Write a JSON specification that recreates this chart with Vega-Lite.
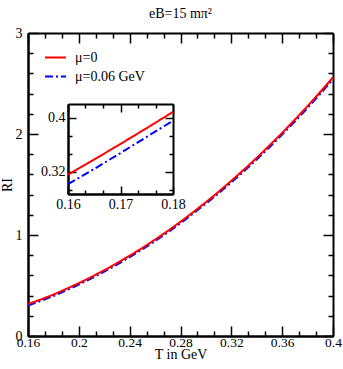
{
  "$schema": "https://vega.github.io/schema/vega-lite/v6.json",
  "width": 305,
  "height": 303,
  "autosize": {"type": "none"},
  "padding": {"left": 28, "top": 33, "right": 10, "bottom": 33},
  "background": "white",
  "title": {"text": "eB=15 mπ²", "font": "Liberation Serif", "fontSize": 14, "fontWeight": "normal", "color": "black", "offset": 5, "anchor": "middle"},
  "config": {
    "view": {"stroke": null},
    "axis": {"grid": false, "labelFont": "Liberation Serif", "titleFont": "Liberation Serif", "labelFontSize": 14, "titleFontSize": 14, "titleFontWeight": "normal", "labelColor": "black", "titleColor": "black", "domainColor": "black", "tickColor": "black", "domainWidth": 2, "tickWidth": 1.5, "labelFlush": false, "labelOverlap": false},
    "legend": {"orient": "none", "legendX": 16, "legendY": 13, "symbolType": "stroke", "symbolSize": 441, "symbolStrokeWidth": 2, "labelFont": "Liberation Serif", "labelFontSize": 14, "labelColor": "black", "labelOffset": 8, "padding": 0, "rowPadding": -3}
  },
  "datasets": {
    "main": [
      {"T": 0.16, "RI": 0.302, "mu": "μ=0.06 GeV"},
      {"T": 0.17, "RI": 0.347, "mu": "μ=0.06 GeV"},
      {"T": 0.18, "RI": 0.396, "mu": "μ=0.06 GeV"},
      {"T": 0.19, "RI": 0.451, "mu": "μ=0.06 GeV"},
      {"T": 0.20, "RI": 0.509, "mu": "μ=0.06 GeV"},
      {"T": 0.21, "RI": 0.571, "mu": "μ=0.06 GeV"},
      {"T": 0.22, "RI": 0.637, "mu": "μ=0.06 GeV"},
      {"T": 0.23, "RI": 0.707, "mu": "μ=0.06 GeV"},
      {"T": 0.24, "RI": 0.781, "mu": "μ=0.06 GeV"},
      {"T": 0.25, "RI": 0.858, "mu": "μ=0.06 GeV"},
      {"T": 0.26, "RI": 0.940, "mu": "μ=0.06 GeV"},
      {"T": 0.27, "RI": 1.026, "mu": "μ=0.06 GeV"},
      {"T": 0.28, "RI": 1.117, "mu": "μ=0.06 GeV"},
      {"T": 0.29, "RI": 1.212, "mu": "μ=0.06 GeV"},
      {"T": 0.30, "RI": 1.311, "mu": "μ=0.06 GeV"},
      {"T": 0.31, "RI": 1.413, "mu": "μ=0.06 GeV"},
      {"T": 0.32, "RI": 1.520, "mu": "μ=0.06 GeV"},
      {"T": 0.33, "RI": 1.632, "mu": "μ=0.06 GeV"},
      {"T": 0.34, "RI": 1.748, "mu": "μ=0.06 GeV"},
      {"T": 0.35, "RI": 1.869, "mu": "μ=0.06 GeV"},
      {"T": 0.36, "RI": 1.994, "mu": "μ=0.06 GeV"},
      {"T": 0.37, "RI": 2.124, "mu": "μ=0.06 GeV"},
      {"T": 0.38, "RI": 2.258, "mu": "μ=0.06 GeV"},
      {"T": 0.39, "RI": 2.397, "mu": "μ=0.06 GeV"},
      {"T": 0.40, "RI": 2.540, "mu": "μ=0.06 GeV"},
      {"T": 0.16, "RI": 0.316, "mu": "μ=0"},
      {"T": 0.17, "RI": 0.361, "mu": "μ=0"},
      {"T": 0.18, "RI": 0.410, "mu": "μ=0"},
      {"T": 0.19, "RI": 0.465, "mu": "μ=0"},
      {"T": 0.20, "RI": 0.523, "mu": "μ=0"},
      {"T": 0.21, "RI": 0.585, "mu": "μ=0"},
      {"T": 0.22, "RI": 0.651, "mu": "μ=0"},
      {"T": 0.23, "RI": 0.721, "mu": "μ=0"},
      {"T": 0.24, "RI": 0.795, "mu": "μ=0"},
      {"T": 0.25, "RI": 0.872, "mu": "μ=0"},
      {"T": 0.26, "RI": 0.954, "mu": "μ=0"},
      {"T": 0.27, "RI": 1.040, "mu": "μ=0"},
      {"T": 0.28, "RI": 1.131, "mu": "μ=0"},
      {"T": 0.29, "RI": 1.226, "mu": "μ=0"},
      {"T": 0.30, "RI": 1.325, "mu": "μ=0"},
      {"T": 0.31, "RI": 1.428, "mu": "μ=0"},
      {"T": 0.32, "RI": 1.536, "mu": "μ=0"},
      {"T": 0.33, "RI": 1.648, "mu": "μ=0"},
      {"T": 0.34, "RI": 1.764, "mu": "μ=0"},
      {"T": 0.35, "RI": 1.886, "mu": "μ=0"},
      {"T": 0.36, "RI": 2.011, "mu": "μ=0"},
      {"T": 0.37, "RI": 2.142, "mu": "μ=0"},
      {"T": 0.38, "RI": 2.276, "mu": "μ=0"},
      {"T": 0.39, "RI": 2.416, "mu": "μ=0"},
      {"T": 0.40, "RI": 2.560, "mu": "μ=0"}
    ],
    "inset": [
      {"T": 0.16, "RI": 0.302, "mu": "μ=0.06 GeV"},
      {"T": 0.165, "RI": 0.3245, "mu": "μ=0.06 GeV"},
      {"T": 0.17, "RI": 0.348, "mu": "μ=0.06 GeV"},
      {"T": 0.175, "RI": 0.372, "mu": "μ=0.06 GeV"},
      {"T": 0.18, "RI": 0.396, "mu": "μ=0.06 GeV"},
      {"T": 0.16, "RI": 0.316, "mu": "μ=0"},
      {"T": 0.165, "RI": 0.3385, "mu": "μ=0"},
      {"T": 0.17, "RI": 0.3615, "mu": "μ=0"},
      {"T": 0.175, "RI": 0.385, "mu": "μ=0"},
      {"T": 0.18, "RI": 0.409, "mu": "μ=0"}
    ]
  },
  "layer": [
    {
      "data": {"name": "main"},
      "layer": [
        {
          "mark": {"type": "line", "strokeWidth": 2},
          "encoding": {
            "x": {"field": "T", "type": "quantitative", "scale": {"domain": [0.16, 0.4], "nice": false, "zero": false},
              "axis": {"orient": "bottom", "values": [0.16, 0.2, 0.24, 0.28, 0.32, 0.36, 0.4], "ticks": false, "labelPadding": -1, "labelFontSize": 13.5, "labelExpr": "format(datum.value, '.2~f')", "title": "T in GeV", "titlePadding": -1}},
            "y": {"field": "RI", "type": "quantitative", "scale": {"domain": [0, 3], "nice": false, "zero": false},
              "axis": {"orient": "left", "values": [0, 1, 2, 3], "ticks": false, "labelPadding": 6, "labelExpr": "format(datum.value, '.0f')", "title": "RI", "titlePadding": 1}},
            "color": {"field": "mu", "type": "nominal", "scale": {"domain": ["μ=0", "μ=0.06 GeV"], "range": ["#ff0000", "#0000ff"]}, "legend": {"title": null}},
            "strokeDash": {"field": "mu", "type": "nominal", "scale": {"domain": ["μ=0", "μ=0.06 GeV"], "range": [[1, 0], [8, 3, 2, 3]]}, "legend": {"title": null}}
          }
        },
        {
          "mark": {"type": "line", "opacity": 0},
          "encoding": {
            "x": {"field": "T", "type": "quantitative",
              "axis": {"orient": "bottom", "values": [0.16, 0.17333, 0.18667, 0.2, 0.21333, 0.22667, 0.24, 0.25333, 0.26667, 0.28, 0.29333, 0.30667, 0.32, 0.33333, 0.34667, 0.36, 0.37333, 0.38667, 0.4], "labels": false, "title": null,
                "tickSize": {"condition": {"test": "abs(datum.value*25 - round(datum.value*25)) < 0.001", "value": -10}, "value": -5}}},
            "y": {"field": "RI", "type": "quantitative",
              "axis": {"orient": "left", "values": [0, 0.2, 0.4, 0.6, 0.8, 1, 1.2, 1.4, 1.6, 1.8, 2, 2.2, 2.4, 2.6, 2.8, 3], "labels": false, "title": null,
                "tickSize": {"condition": {"test": "abs(datum.value - round(datum.value)) < 0.001", "value": -10}, "value": -5}}},
            "detail": {"field": "mu"}
          }
        },
        {
          "mark": {"type": "line", "opacity": 0},
          "encoding": {
            "x": {"field": "T", "type": "quantitative",
              "axis": {"orient": "top", "values": [0.16, 0.17333, 0.18667, 0.2, 0.21333, 0.22667, 0.24, 0.25333, 0.26667, 0.28, 0.29333, 0.30667, 0.32, 0.33333, 0.34667, 0.36, 0.37333, 0.38667, 0.4], "labels": false, "title": null,
                "tickSize": {"condition": {"test": "abs(datum.value*25 - round(datum.value*25)) < 0.001", "value": -10}, "value": -5}}},
            "y": {"field": "RI", "type": "quantitative",
              "axis": {"orient": "right", "values": [0, 0.2, 0.4, 0.6, 0.8, 1, 1.2, 1.4, 1.6, 1.8, 2, 2.2, 2.4, 2.6, 2.8, 3], "labels": false, "title": null,
                "tickSize": {"condition": {"test": "abs(datum.value - round(datum.value)) < 0.001", "value": -10}, "value": -5}}},
            "detail": {"field": "mu"}
          }
        }
      ],
      "resolve": {"axis": {"x": "independent", "y": "independent"}}
    },
    {
      "data": {"name": "inset"},
      "layer": [
        {
          "mark": {"type": "line", "strokeWidth": 2},
          "encoding": {
            "x": {"field": "T", "type": "quantitative", "scale": {"domain": [0.16, 0.18], "range": [40, 145], "nice": false, "zero": false},
              "axis": {"orient": "bottom", "offset": -142, "values": [0.16, 0.17, 0.18], "ticks": false, "labelPadding": 3, "labelExpr": "format(datum.value, '.2~f')", "title": null}},
            "y": {"field": "RI", "type": "quantitative", "scale": {"domain": [0.2873, 0.4207], "range": [161, 71], "nice": false, "zero": false},
              "axis": {"orient": "left", "offset": -40, "values": [0.32, 0.4], "ticks": false, "labelPadding": 3, "labelExpr": "format(datum.value, '.2~f')", "title": null}},
            "color": {"field": "mu", "type": "nominal", "scale": {"domain": ["μ=0", "μ=0.06 GeV"], "range": ["#ff0000", "#0000ff"]}, "legend": null},
            "strokeDash": {"field": "mu", "type": "nominal", "scale": {"domain": ["μ=0", "μ=0.06 GeV"], "range": [[1, 0], [8, 3, 2, 3]]}, "legend": null}
          }
        },
        {
          "mark": {"type": "line", "opacity": 0},
          "encoding": {
            "x": {"field": "T", "type": "quantitative",
              "axis": {"orient": "bottom", "offset": -142, "values": [0.16, 0.16333, 0.16667, 0.17, 0.17333, 0.17667, 0.18], "labels": false, "title": null,
                "tickSize": {"condition": {"test": "abs(datum.value*100 - round(datum.value*100)) < 0.01", "value": -8}, "value": -4}}},
            "y": {"field": "RI", "type": "quantitative",
              "axis": {"orient": "left", "offset": -40, "values": [0.29333, 0.32, 0.34667, 0.37333, 0.4], "labels": false, "title": null,
                "tickSize": {"condition": {"test": "abs(datum.value*12.5 - round(datum.value*12.5)) < 0.01", "value": -8}, "value": -4}}},
            "detail": {"field": "mu"}
          }
        },
        {
          "mark": {"type": "line", "opacity": 0},
          "encoding": {
            "x": {"field": "T", "type": "quantitative",
              "axis": {"orient": "top", "offset": -71, "values": [0.16, 0.16333, 0.16667, 0.17, 0.17333, 0.17667, 0.18], "labels": false, "title": null,
                "tickSize": {"condition": {"test": "abs(datum.value*100 - round(datum.value*100)) < 0.01", "value": -8}, "value": -4}}},
            "y": {"field": "RI", "type": "quantitative",
              "axis": {"orient": "right", "offset": -160, "values": [0.29333, 0.32, 0.34667, 0.37333, 0.4], "labels": false, "title": null,
                "tickSize": {"condition": {"test": "abs(datum.value*12.5 - round(datum.value*12.5)) < 0.01", "value": -8}, "value": -4}}},
            "detail": {"field": "mu"}
          }
        }
      ],
      "resolve": {"axis": {"x": "independent", "y": "independent"}}
    }
  ],
  "resolve": {"scale": {"x": "independent", "y": "independent"}}
}
